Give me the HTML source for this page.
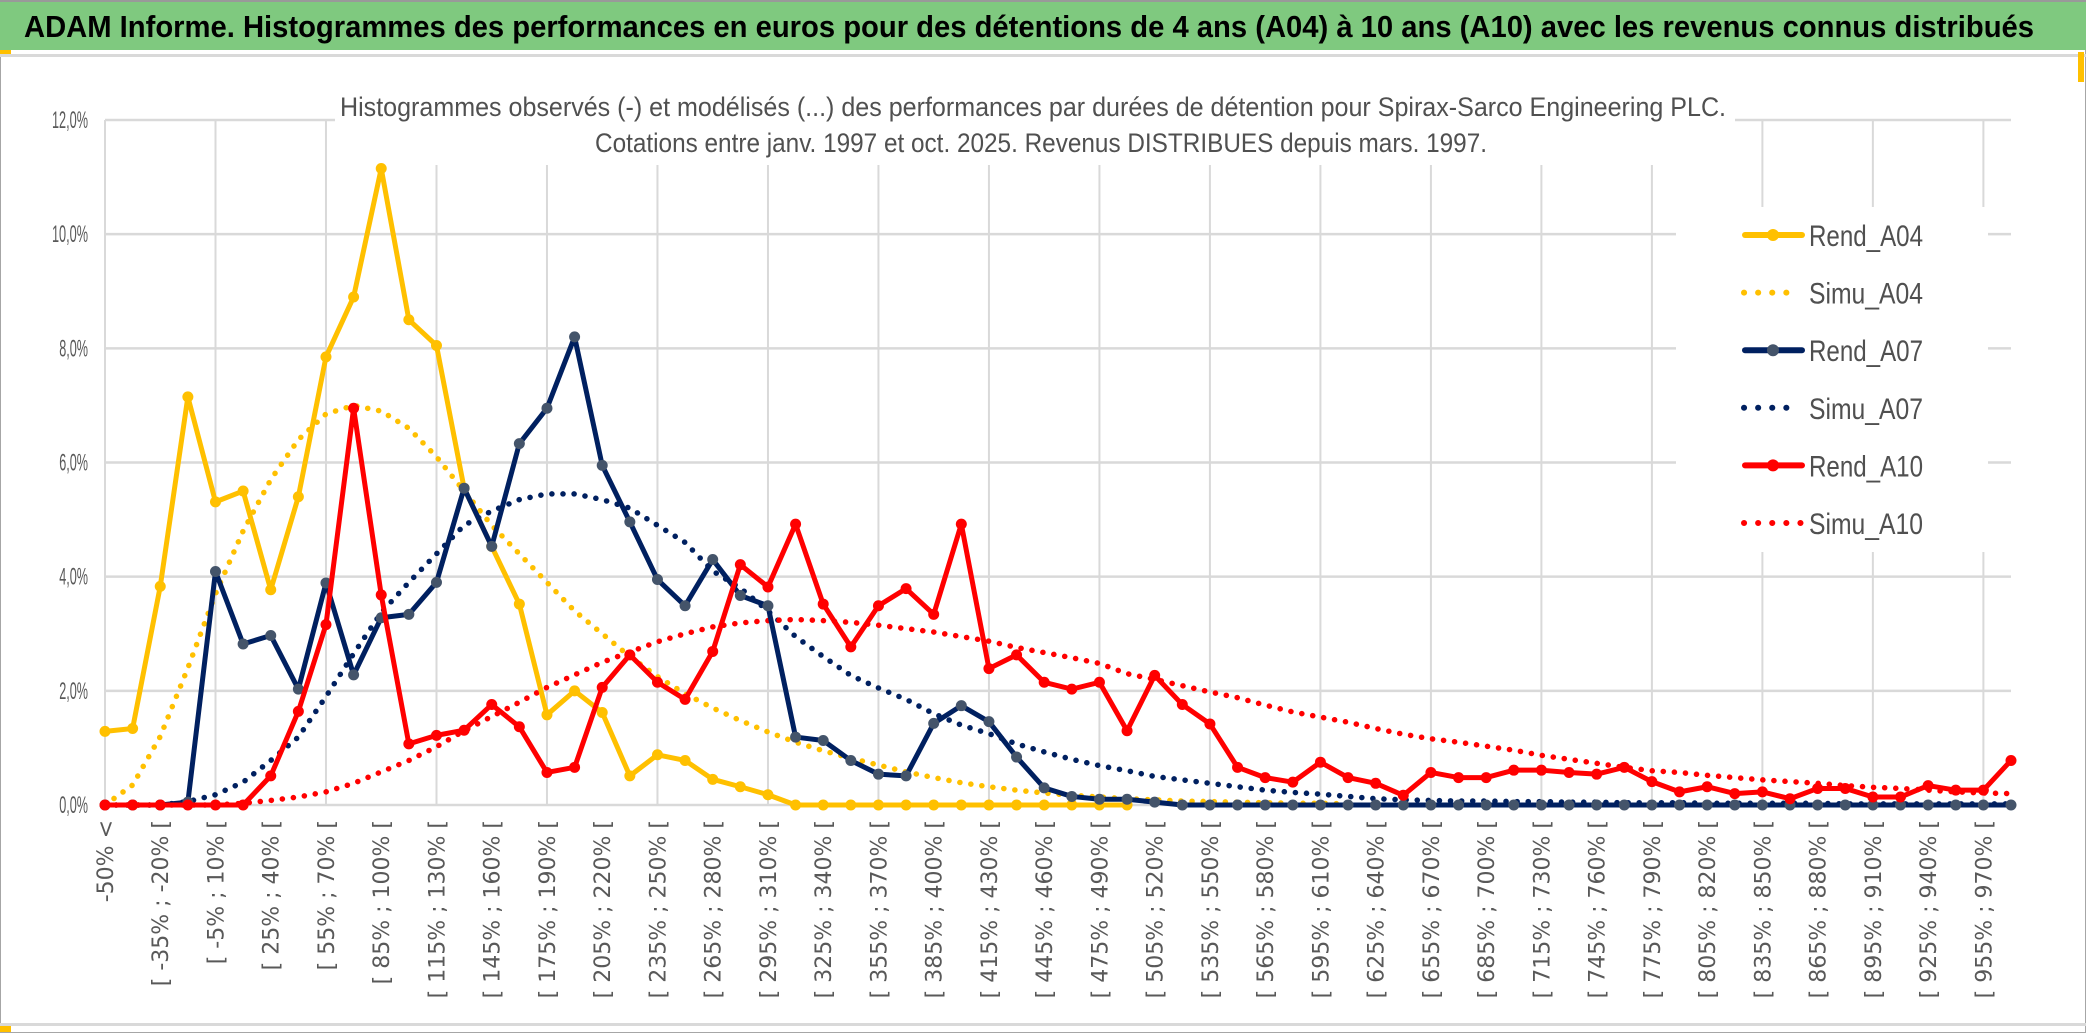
<!DOCTYPE html>
<html><head><meta charset="utf-8"><style>
html,body{margin:0;padding:0;background:#fff;}
svg{display:block;font-family:"Liberation Sans",sans-serif;}
</style></head><body>
<svg id="chart" width="2086" height="1033" viewBox="0 0 2086 1033" xmlns="http://www.w3.org/2000/svg">
<rect x="0" y="0" width="2086" height="1033" fill="#fff"/>
<rect x="0.5" y="0.5" width="2085" height="1032" fill="none" stroke="#A6A6A6" stroke-width="1"/>
<rect x="0" y="2" width="2086" height="48" fill="#7FC97F"/>
<rect x="0" y="0" width="2086" height="2" fill="#999"/>
<text x="24" y="37" font-size="31" font-weight="bold" fill="#000" textLength="2010" lengthAdjust="spacingAndGlyphs">ADAM Informe. Histogrammes des performances en euros pour des détentions de 4 ans (A04) à 10 ans (A10) avec les revenus connus distribués</text>
<rect x="0" y="50" width="11" height="4" fill="#FFC000"/>
<rect x="0" y="54" width="2086" height="3" fill="#D9D9D9"/>
<rect x="2078" y="52" width="6" height="30" fill="#FFC000"/>
<rect x="0" y="1023" width="2086" height="3" fill="#D9D9D9"/>
<rect x="0" y="1026" width="11" height="6" fill="#FFC000"/>
<g id="grid"></g>
<rect x="335" y="60" width="1400" height="105" fill="#fff"/>
<rect x="1676" y="207" width="312" height="345" fill="#fff"/>
<text x="340" y="116" font-size="27" fill="#505050" textLength="1386" lengthAdjust="spacingAndGlyphs">Histogrammes observés (-) et modélisés (...) des performances par durées de détention pour Spirax-Sarco Engineering PLC.</text>
<text x="595" y="152" font-size="27" fill="#505050" textLength="892" lengthAdjust="spacingAndGlyphs">Cotations entre janv. 1997 et oct. 2025. Revenus DISTRIBUES depuis mars. 1997.</text>
<g id="yaxis"></g>
<g id="xaxis"></g>
<g id="series"></g>
<g id="legend"></g>
</svg>
<script>
const yTicks = [0,2,4,6,8,10,12];
const yTickLabels = ["0,0%","2,0%","4,0%","6,0%","8,0%","10,0%","12,0%"];
const catCount = 70;
const rendA04 = [1.29,1.34,3.83,7.15,5.31,5.5,3.77,5.4,7.85,8.9,11.15,8.5,8.05,5.55,4.53,3.52,1.58,2.0,1.62,0.51,0.88,0.78,0.45,0.32,0.18,0,0,0,0,0,0,0,0,0,0,0,0,0];
const simuA04 = [0,0.35,1.2,2.4,3.7,4.8,5.7,6.4,6.85,7.0,6.9,6.6,6.1,5.5,4.9,4.4,3.9,3.4,3.0,2.6,2.25,1.95,1.7,1.48,1.28,1.1,0.95,0.82,0.7,0.58,0.48,0.39,0.32,0.26,0.21,0.17,0.14,0.11,0.09,0.07,0.06,0.05,0.04,0.03,0.03,0.02];
const rendA07 = [0,0,0,0.05,4.09,2.82,2.97,2.03,3.89,2.28,3.28,3.34,3.9,5.55,4.53,6.33,6.95,8.2,5.95,4.96,3.95,3.49,4.3,3.67,3.49,1.19,1.13,0.78,0.54,0.51,1.43,1.74,1.46,0.84,0.3,0.15,0.1,0.1,0.05,0,0,0,0,0,0,0,0,0,0,0,0,0,0,0,0,0,0,0,0,0,0,0,0,0,0,0,0,0,0,0];
const simuA07 = [0,0,0,0.06,0.18,0.4,0.78,1.19,1.9,2.65,3.37,3.9,4.4,4.9,5.15,5.35,5.45,5.45,5.35,5.2,4.9,4.6,4.1,3.8,3.4,2.95,2.6,2.27,2.05,1.85,1.6,1.4,1.25,1.07,0.93,0.8,0.69,0.6,0.5,0.44,0.38,0.32,0.26,0.22,0.19,0.15,0.11,0.09,0.08,0.07,0.07,0.06,0.06,0.05,0.05,0.04,0.04,0.04,0.03,0.03,0.03,0.03,0.03,0.02,0.02,0.02,0.02,0.02,0.02,0.02];
const rendA10 = [0,0,0,0,0,0,0.51,1.64,3.16,6.95,3.68,1.07,1.22,1.31,1.76,1.37,0.57,0.66,2.06,2.63,2.15,1.85,2.69,4.21,3.82,4.92,3.52,2.77,3.49,3.79,3.34,4.92,2.39,2.63,2.15,2.03,2.15,1.3,2.27,1.76,1.42,0.66,0.48,0.4,0.75,0.48,0.38,0.17,0.57,0.48,0.48,0.61,0.61,0.57,0.54,0.66,0.41,0.23,0.32,0.2,0.23,0.11,0.29,0.29,0.14,0.14,0.34,0.26,0.26,0.78];
const simuA10 = [0,0,0,0,0,0.03,0.08,0.14,0.23,0.38,0.58,0.78,1.02,1.3,1.55,1.8,2.06,2.28,2.5,2.68,2.86,3.0,3.12,3.19,3.23,3.25,3.23,3.2,3.15,3.09,3.03,2.95,2.87,2.76,2.67,2.58,2.48,2.3,2.2,2.09,1.98,1.88,1.75,1.63,1.54,1.45,1.34,1.24,1.16,1.1,1.03,0.96,0.87,0.8,0.73,0.66,0.6,0.57,0.52,0.48,0.44,0.41,0.38,0.34,0.31,0.29,0.26,0.23,0.21,0.2];

const NS="http://www.w3.org/2000/svg";
const X0=105, X1=2011, Y0=805, Y12=120;
function xPos(i){return X0+i*(X1-X0)/(catCount-1);}
function yPos(v){return Y0-v*(Y0-Y12)/12;}
function catLabel(i){ if(i===0) return "-50% <"; const a=-50+15*(i-1); return "[ "+a+"% ; "+(a+15)+"% ["; }
function mk(tag,attrs,parent){const e=document.createElementNS(NS,tag);for(const k in attrs)e.setAttribute(k,attrs[k]);parent.appendChild(e);return e;}

const grid=document.getElementById('grid');
yTicks.forEach(function(t){
  const l=mk('line',{x1:X0,x2:X1,y1:yPos(t),y2:yPos(t),stroke:'#D9D9D9','stroke-width':2.5},grid);
  
  
});
for(let i=0;i<catCount;i+=4){
  const l=mk('line',{x1:xPos(i),x2:xPos(i),y1:Y12,y2:Y0,stroke:'#D9D9D9','stroke-width':2},grid);
  
  
}
const ya=document.getElementById('yaxis');
yTicks.forEach(function(t,k){
  const tx=mk('text',{x:88,y:yPos(t)+8,'text-anchor':'end','font-size':24,fill:'#595959',textLength:yTickLabels[k].length*7.2,lengthAdjust:'spacingAndGlyphs'},ya);
  tx.textContent=yTickLabels[k];
  
  
});
const xa=document.getElementById('xaxis');
for(let i=0;i<catCount;i+=2){
  const tx=mk('text',{transform:'translate('+(xPos(i)+8)+',820) rotate(-90)','text-anchor':'end','font-size':22,fill:'#595959','font-family':'DejaVu Sans, sans-serif'},xa);
  tx.textContent=catLabel(i);
  
  
}
const sg=document.getElementById('series');
function pts(arr){return arr.map(function(v,i){return xPos(i)+','+yPos(v);}).join(' ');}
function dotted(arr,color,name){
  const p=mk('polyline',{points:pts(arr),fill:'none',stroke:color,'stroke-width':5.5,'stroke-linecap':'round','stroke-dasharray':'0.1 11'},sg);
  
  
}
function solid(arr,color,mcol,name){
  const g=mk('g',{},sg);
  
  
  mk('polyline',{points:pts(arr),fill:'none',stroke:color,'stroke-width':5,'stroke-linejoin':'round'},g);
  arr.forEach(function(v,i){
    const c=mk('circle',{cx:xPos(i),cy:yPos(v),r:5.5,fill:mcol},g);
    
    
  });
}
dotted(simuA04,'#FFC000','simu-a04-line');
dotted(simuA07,'#002060','simu-a07-line');
dotted(simuA10,'#FF0000','simu-a10-line');
solid(rendA04,'#FFC000','#FFC000','rend-a04-line');
solid(rendA07,'#002060','#44546A','rend-a07-line');
solid(rendA10,'#FF0000','#FF0000','rend-a10-line');

const lg=document.getElementById('legend');
const legendItems=[["Rend_A04",'#FFC000','#FFC000',false],["Simu_A04",'#FFC000',null,true],["Rend_A07",'#002060','#44546A',false],["Simu_A07",'#002060',null,true],["Rend_A10",'#FF0000','#FF0000',false],["Simu_A10",'#FF0000',null,true]];
legendItems.forEach(function(it,k){
  const y=235+k*57.6;
  const g=mk('g',{},lg);
  
  
  if(it[3]){
    mk('line',{x1:1744,x2:it[0]==="Simu_A10"?1801:1792,y1:y,y2:y,stroke:it[1],'stroke-width':6,'stroke-linecap':'round','stroke-dasharray':'0.1 14'},g);
  } else {
    mk('line',{x1:1745,x2:1802,y1:y,y2:y,stroke:it[1],'stroke-width':6,'stroke-linecap':'round'},g);
    mk('circle',{cx:1773,cy:y,r:6,fill:it[2]},g);
  }
  const t=mk('text',{x:1809,y:y+11,'font-size':30,fill:'#505050',textLength:114,lengthAdjust:'spacingAndGlyphs'},g);
  t.textContent=it[0];
});
</script>
</body></html>
